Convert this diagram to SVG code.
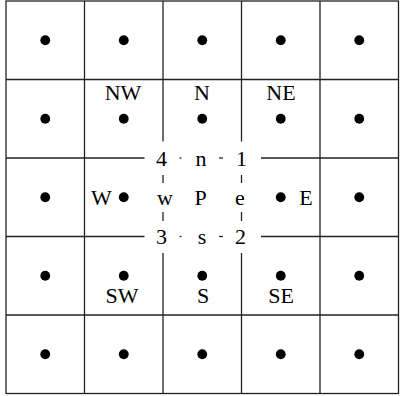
<svg xmlns="http://www.w3.org/2000/svg" width="400" height="396" viewBox="0 0 400 396">
<style>
.ln{stroke:#222;stroke-width:1.3;fill:none}
.dt{fill:#000}
.t{font-family:'Liberation Serif','Times New Roman',Times,serif;font-size:22px;fill:#000;text-anchor:middle}
</style>
<rect width="400" height="396" fill="#fff"/>
<g id="connectors" class="ln">
<rect x="6" y="1" width="392.5" height="392.5"/>
<line x1="84.5" y1="1" x2="84.5" y2="393.5"/>
<line x1="320" y1="1" x2="320" y2="393.5"/>
<line x1="6" y1="79.5" x2="398.5" y2="79.5"/>
<line x1="6" y1="315" x2="398.5" y2="315"/>
<line x1="163" y1="1" x2="163" y2="141.5"/>
<line x1="163" y1="253" x2="163" y2="393.5"/>
<line x1="241.5" y1="1" x2="241.5" y2="141.5"/>
<line x1="241.5" y1="253" x2="241.5" y2="393.5"/>
<line x1="6" y1="158" x2="144.5" y2="158"/>
<line x1="261" y1="158" x2="398.5" y2="158"/>
<line x1="6" y1="236.5" x2="144.5" y2="236.5"/>
<line x1="261" y1="236.5" x2="398.5" y2="236.5"/>
<line x1="163" y1="175" x2="163" y2="183"/>
<line x1="163" y1="212" x2="163" y2="221"/>
<line x1="241.5" y1="175" x2="241.5" y2="183"/>
<line x1="241.5" y1="212" x2="241.5" y2="221"/>
<line x1="179.5" y1="158" x2="181.5" y2="158"/>
<line x1="219" y1="158" x2="223" y2="158"/>
<line x1="179.5" y1="236.5" x2="181.5" y2="236.5"/>
<line x1="219" y1="236.5" x2="223" y2="236.5"/>
</g>
<g id="r1" class="dt">
<circle cx="45.25" cy="40.25" r="4.9"/><circle cx="123.75" cy="40.25" r="4.9"/><circle cx="202.25" cy="40.25" r="4.9"/><circle cx="280.75" cy="40.25" r="4.9"/><circle cx="359.25" cy="40.25" r="4.9"/>
</g>
<g id="r2a" class="dt"><circle cx="45.25" cy="118.75" r="4.9"/><circle cx="359.25" cy="118.75" r="4.9"/></g>
<g id="NW"><circle class="dt" cx="123.75" cy="118.75" r="4.9"/><text class="t" x="123" y="100">NW</text></g>
<g id="N"><circle class="dt" cx="202.25" cy="118.75" r="4.9"/><text class="t" x="202" y="100">N</text></g>
<g id="NE"><circle class="dt" cx="280.75" cy="118.75" r="4.9"/><text class="t" x="281" y="100">NE</text></g>
<g id="r3a" class="dt"><circle cx="45.25" cy="197.25" r="4.9"/><circle cx="359.25" cy="197.25" r="4.9"/></g>
<g id="W"><circle class="dt" cx="123.75" cy="197.25" r="4.9"/><text class="t" x="101.5" y="205">W</text></g>
<g id="E"><circle class="dt" cx="280.75" cy="197.25" r="4.9"/><text class="t" x="306" y="205">E</text></g>
<g id="P">
<text class="t" x="200.5" y="205">P</text>
<text class="t" x="165" y="205">w</text>
<text class="t" x="240" y="205">e</text>
<text class="t" x="201" y="165.5">n</text>
<text class="t" x="202" y="244">s</text>
<text class="t" x="161.5" y="165.5">4</text>
<text class="t" x="241.5" y="165.5">1</text>
<text class="t" x="161.5" y="244">3</text>
<text class="t" x="240.5" y="244">2</text>
</g>
<g id="r4a" class="dt"><circle cx="45.25" cy="275.75" r="4.9"/><circle cx="359.25" cy="275.75" r="4.9"/></g>
<g id="SW"><circle class="dt" cx="123.75" cy="275.75" r="4.9"/><text class="t" x="122" y="302.5">SW</text></g>
<g id="S"><circle class="dt" cx="202.25" cy="275.75" r="4.9"/><text class="t" x="203" y="302.5">S</text></g>
<g id="SE"><circle class="dt" cx="280.75" cy="275.75" r="4.9"/><text class="t" x="281" y="302.5">SE</text></g>
<g id="r5" class="dt">
<circle cx="45.25" cy="354.25" r="4.9"/><circle cx="123.75" cy="354.25" r="4.9"/><circle cx="202.25" cy="354.25" r="4.9"/><circle cx="280.75" cy="354.25" r="4.9"/><circle cx="359.25" cy="354.25" r="4.9"/>
</g>
</svg>
